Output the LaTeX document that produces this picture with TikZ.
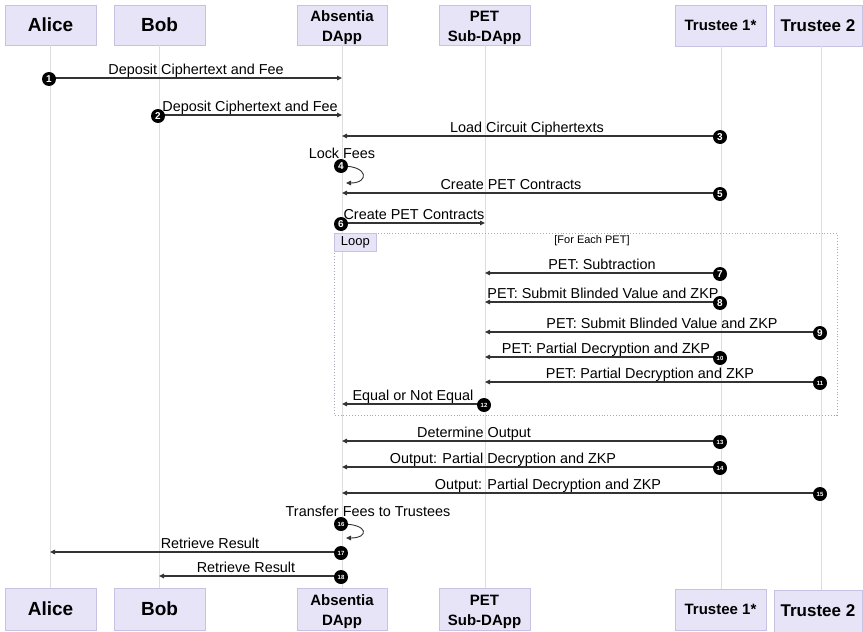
\documentclass[tikz,border=0pt]{standalone}
\usepackage{fontspec}
\setmainfont{Liberation Sans}
\usetikzlibrary{arrows.meta}
\definecolor{actfill}{HTML}{E8E4F8}
\definecolor{actdraw}{HTML}{C9C1E2}
\definecolor{lifec}{HTML}{DDDDDD}
\definecolor{msgc}{HTML}{333333}
\definecolor{loopc}{HTML}{A8A8B8}
% #1 number, #2 from x, #3 to x, #4 line y, #5 label centre x, #6 label, #7 number style
\newcommand{\seqmsg}[7]{%
  \coordinate (s#1) at (#2,#4);
  \coordinate (e#1) at (#3,#4);
  \draw[msgline] (s#1) -- (e#1);
  \node[msglabel] (l#1) at (#5,#4-4) {#6};
  \node[#7] (n#1) at (#2-1,#4+1) {#1};
}
\newcommand{\downstrut}{\rule{0pt}{16pt}}
\begin{document}
\begin{tikzpicture}[x=1pt,y=-1pt,
  actor/.style={draw=actdraw, fill=actfill, line width=0.8pt, inner sep=0pt,
    minimum width=91pt, minimum height=40pt, align=center, font=\bfseries},
  bigname/.style={font=\bfseries\fontsize{19}{22}\selectfont},
  midname/.style={font=\bfseries\fontsize{15}{20}\selectfont},
  lifeline/.style={draw=lifec, line width=0.8pt},
  msgline/.style={draw=msgc, line width=1.3pt, -{Triangle[length=5pt,width=4.5pt]}},
  selfline/.style={draw=msgc, line width=0.9pt, -{Triangle[length=5pt,width=4.5pt]}},
  msglabel/.style={anchor=base, inner sep=0pt, font=\fontsize{14.4}{16}\selectfont},
  numa/.style={circle, fill=black, inner sep=0pt, minimum size=14pt, text=white,
    font=\bfseries\fontsize{10}{10}\selectfont},
  numb/.style={circle, fill=black, inner sep=0pt, minimum size=14pt, text=white,
    font=\bfseries\fontsize{6}{6}\selectfont},
  loopframe/.style={draw=loopc, line width=0.9pt, dotted},
  looptag/.style={draw=actdraw, fill=actfill, line width=0.7pt, anchor=north west,
    minimum width=42pt, minimum height=18pt, inner sep=0pt,
    font=\fontsize{13}{15}\selectfont},
  guard/.style={inner sep=0pt, font=\fontsize{11}{13}\selectfont}
]
\useasboundingbox (0,0) rectangle (863,632);

% top actors
\node[actor, bigname] (ta) at (50.5,25) {Alice};
\node[actor, bigname] (tb) at (159.5,25) {Bob};
\node[actor, midname, minimum width=90pt] (tc) at (342,25) {\downstrut Absentia\\DApp};
\node[actor, midname] (tp) at (484.5,25) {\downstrut PET\\Sub-DApp};
\node[actor, midname, minimum height=41pt] (t1) at (720.5,25.5) {Trustee 1*};
\node[actor, font=\bfseries\fontsize{17}{20}\selectfont, minimum width=88pt, minimum height=41pt] (t2) at (818,25.5) {Trustee 2};

% bottom actors
\node[actor, bigname, minimum height=42pt] (ba) at (50.5,609) {Alice};
\node[actor, bigname, minimum height=42pt] (bb) at (159.5,609) {Bob};
\node[actor, midname, minimum width=90pt, minimum height=42pt] (bc) at (342,609) {\downstrut Absentia\\DApp};
\node[actor, midname, minimum height=42pt] (bp) at (484.5,609) {\downstrut PET\\Sub-DApp};
\node[actor, midname, minimum height=41pt] (b1) at (720.5,609.5) {Trustee 1*};
\node[actor, font=\bfseries\fontsize{17}{20}\selectfont, minimum width=88pt, minimum height=42pt] (b2) at (818,611) {Trustee 2};

% lifelines
\draw[lifeline] (50,45) -- (50,588);
\draw[lifeline] (159,45) -- (159,588);
\draw[lifeline] (342,45) -- (342,588);
\draw[lifeline] (485,45) -- (485,588);
\draw[lifeline] (721,46) -- (721,589);
\draw[lifeline] (821,46) -- (821,590);

% loop frame
\coordinate (lf1) at (334,233);
\coordinate (lf2) at (837,415);
\draw[loopframe] (lf1) rectangle (lf2);
\node[looptag] (looptag) at (lf1) {Loop};
\node[guard] (guard) at (592,241) {[For Each PET]};

% messages
\seqmsg{1}{50}{342}{78}{196}{Deposit Ciphertext and Fee}{numa}
\seqmsg{2}{159}{342}{115}{250}{Deposit Ciphertext and Fee}{numa}
\seqmsg{3}{721}{342}{136}{527}{Load Circuit Ciphertexts}{numa}

% self message 4
\node[msglabel] (l4) at (342,158) {Lock Fees};
\coordinate (s4) at (342,166);
\coordinate (e4) at (346,183);
\draw[selfline] (s4) .. controls (369,166) and (369,183) .. (e4);
\node[numa] (n4) at (341,166) {4};

\seqmsg{5}{721}{342}{193}{511}{Create PET Contracts}{numa}
\seqmsg{6}{342}{485}{223}{414}{Create PET Contracts}{numa}
\seqmsg{7}{721}{485}{273}{602}{PET: Subtraction}{numa}
\seqmsg{8}{721}{485}{302}{603}{PET: Submit Blinded Value and ZKP}{numa}
\seqmsg{9}{821}{485}{332}{662}{PET: Submit Blinded Value and ZKP}{numa}
\seqmsg{10}{721}{485}{357}{606}{PET: Partial Decryption and ZKP}{numb}
\seqmsg{11}{821}{485}{382}{650}{PET: Partial Decryption and ZKP}{numb}
\seqmsg{12}{485}{342}{404}{413}{Equal or Not Equal}{numb}
\seqmsg{13}{721}{342}{441}{474}{Determine Output}{numb}
\seqmsg{14}{721}{342}{467}{503}{Output: Partial Decryption and ZKP}{numb}
\seqmsg{15}{821}{342}{493}{548}{Output: Partial Decryption and ZKP}{numb}

% self message 16
\node[msglabel] (l16) at (368,516) {Transfer Fees to Trustees};
\coordinate (s16) at (342,524);
\coordinate (e16) at (346,538);
\draw[selfline] (s16) .. controls (369,524) and (369,538) .. (e16);
\node[numb] (n16) at (341,524) {16};

\seqmsg{17}{342}{50}{552}{210}{Retrieve Result}{numb}
\seqmsg{18}{342}{159}{576}{246}{Retrieve Result}{numb}
\end{tikzpicture}
\end{document}
